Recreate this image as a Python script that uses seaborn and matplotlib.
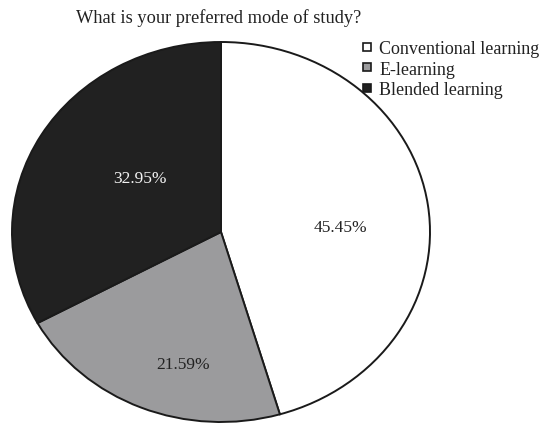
import matplotlib
matplotlib.use("Agg")
import matplotlib.pyplot as plt
from matplotlib.lines import Line2D
import numpy as np
import seaborn as sns

# Survey answers: share of respondents per preferred mode of study (%)
categories = ["Conventional learning", "E-learning", "Blended learning"]
shares = [45.45, 21.59, 32.95]
pct_labels = ["45.45%", "21.59%", "32.95%"]
title = "What is your preferred mode of study?"

colors = ["#ffffff", "#9b9b9d", "#212121"]
text_colors = ["#222222", "#222222", "#f2f2f2"]
# label placement inside each wedge: radial fraction and turn from the bisector (deg)
label_radius = [0.57, 0.72, 0.48]
label_turn = [-5.6, 7.8, -5.5]

sns.set_theme(style="white")
plt.rcParams["font.family"] = ["Liberation Serif", "DejaVu Serif"]

fig = plt.figure(figsize=(5.45, 4.27), dpi=100)
W, H = 545, 427
# axes box spans the elliptical pie (pixel coordinates, origin top-left)
x0, x1, y0, y1 = 12, 430, 43, 423
ax = fig.add_axes([x0 / W, 1 - y1 / H, (x1 - x0) / W, (y1 - y0) / H])

wedges, _ = ax.pie(
    shares,
    colors=colors,
    startangle=90,
    counterclock=False,
    radius=1.0,
    wedgeprops=dict(edgecolor="#1a1a1a", linewidth=1.4),
)
for w in wedges:
    w.set_clip_on(False)

ax.set_aspect("auto")
ax.set_xlim(-1, 1)
ax.set_ylim(-1, 1)
ax.axis("off")

for w, lab, r, turn, tc in zip(wedges, pct_labels, label_radius, label_turn, text_colors):
    mid = np.deg2rad((w.theta1 + w.theta2) / 2 + turn)
    ax.text(r * np.cos(mid), r * np.sin(mid), lab, ha="center", va="center",
            fontsize=12.5, color=tc)

fig.text(219 / W, 1 - 18 / H, title, ha="center", va="center",
         fontsize=13.2, color="#222222")

handles = [
    Line2D([], [], linestyle="none", marker="s", markersize=6,
           markerfacecolor=c, markeredgecolor="#1a1a1a", markeredgewidth=1.2)
    for c in colors
]
fig.legend(
    handles, categories,
    loc="upper left", bbox_to_anchor=(362 / W, 1 - 41 / H),
    frameon=False, fontsize=13, handlelength=0.6, handletextpad=0.35,
    labelspacing=0.2, borderpad=0, borderaxespad=0,
    labelcolor="#222222",
)

fig.savefig("out.png", dpi=100, facecolor="white")
